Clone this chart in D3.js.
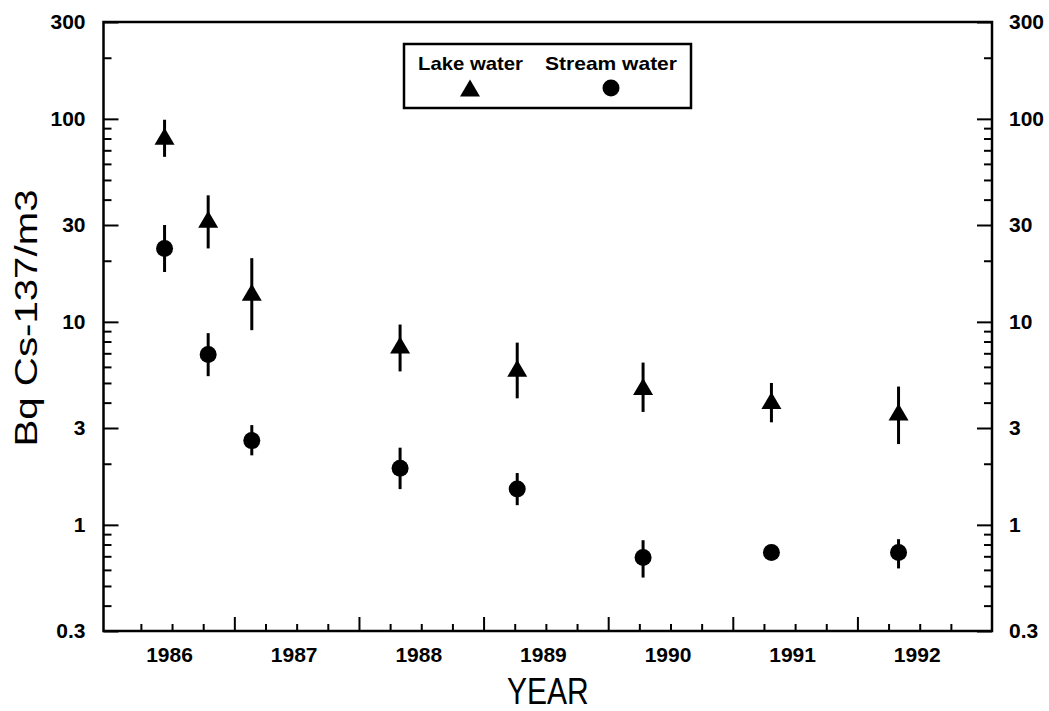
<!DOCTYPE html>
<html>
<head>
<meta charset="utf-8">
<script src="https://cdn.jsdelivr.net/npm/d3@7"></script>
<style>
  body { margin: 0; background: #fff; }
  svg { display: block; }
  text { font-family: "Liberation Sans", Arial, Helvetica, sans-serif; fill: #000; }
</style>
</head>
<body>
<svg id="chart" width="1049" height="711"></svg>
<script>
// Cs-137 activity in lake and stream water, 1986-1992 (sampling date as decimal year)
const sampleDates   = [1986.44, 1986.79, 1987.14, 1988.33, 1989.27, 1990.28, 1991.31, 1992.33];
const lakeValues    = [82, 32, 14, 7.7, 5.9, 4.8, 4.1, 3.6];
const lakeLow       = [65, 23, 9.1, 5.7, 4.2, 3.6, 3.2, 2.5];
const lakeHigh      = [99, 42, 20.6, 9.7, 7.9, 6.3, 5.0, 4.8];
const streamValues  = [23, 6.9, 2.6, 1.9, 1.5, 0.69, 0.73, 0.73];
const streamLow     = [17.6, 5.4, 2.2, 1.5, 1.25, 0.55, 0.73, 0.61];
const streamHigh    = [30, 8.8, 3.1, 2.4, 1.8, 0.84, 0.73, 0.85];
const seriesNames   = ["Lake water", "Stream water"];
const yearLabels    = [1986, 1987, 1988, 1989, 1990, 1991, 1992];
const yearTicks     = [1987, 1988, 1989, 1990, 1991, 1992];
const quarterTicks  = [0.25, 0.5, 0.75, 1.25, 1.5, 1.75, 2.25, 2.5, 2.75, 3.25, 3.5, 3.75,
                       4.25, 4.5, 4.75, 5.25, 5.5, 5.75, 6.25, 6.5, 6.75].map(d => 1986 + d);
const yMajorTicks   = [0.3, 1, 3, 10, 30, 100, 300];
const yMinorTicks   = [0.4, 0.5, 0.6, 0.7, 0.8, 0.9, 2, 4, 5, 6, 7, 8, 9,
                       20, 40, 50, 60, 70, 80, 90, 200];
const xDomain = [1985.95, 1993.08];
const yDomain = [0.3, 300];

const svg = d3.select("#chart");
const plot = { left: 103.5, right: 992, top: 22, bottom: 631 };

const x = d3.scaleLinear().domain(xDomain).range([plot.left, plot.right]);
const y = d3.scaleLog().domain(yDomain).range([plot.bottom, plot.top]);

const fmtY = d => (d < 1 ? d3.format(".1f")(d) : d3.format("d")(d));

function styleAxis(g) {
  g.select(".domain").remove();
  g.selectAll(".tick line").attr("stroke", "#000").attr("stroke-width", 2);
  g.selectAll(".tick text").attr("font-size", 21).attr("font-weight", "bold");
}

// Left axis: labelled decades and minor ticks pointing inward
svg.append("g").attr("transform", `translate(${plot.left},0)`)
  .call(d3.axisLeft(y).tickValues(yMajorTicks).tickSize(-15).tickPadding(18).tickFormat(fmtY))
  .call(styleAxis);
svg.append("g").attr("transform", `translate(${plot.left},0)`)
  .call(d3.axisLeft(y).tickValues(yMinorTicks).tickSize(-8).tickFormat(""))
  .call(styleAxis);

// Right axis mirrors the left
svg.append("g").attr("transform", `translate(${plot.right},0)`)
  .call(d3.axisRight(y).tickValues(yMajorTicks).tickSize(-15).tickPadding(17).tickFormat(fmtY))
  .call(styleAxis);
svg.append("g").attr("transform", `translate(${plot.right},0)`)
  .call(d3.axisRight(y).tickValues(yMinorTicks).tickSize(-8).tickFormat(""))
  .call(styleAxis);

// Bottom axis: year boundaries, quarter ticks, labels centred in each year
svg.append("g").attr("transform", `translate(0,${plot.bottom})`)
  .call(d3.axisBottom(x).tickValues(yearTicks).tickSize(-14).tickFormat(""))
  .call(styleAxis);
svg.append("g").attr("transform", `translate(0,${plot.bottom})`)
  .call(d3.axisBottom(x).tickValues(quarterTicks).tickSize(-7).tickFormat(""))
  .call(styleAxis);
svg.append("g").attr("transform", `translate(0,${plot.bottom})`)
  .call(d3.axisBottom(x).tickValues(yearLabels.map(v => v + 0.5)).tickSize(0).tickPadding(16)
        .tickFormat(d => String(Math.floor(d))))
  .call(styleAxis)
  .call(g => g.selectAll(".tick text").attr("dx", -3));

// Plot frame
svg.append("rect")
  .attr("x", plot.left).attr("y", plot.top)
  .attr("width", plot.right - plot.left).attr("height", plot.bottom - plot.top)
  .attr("fill", "none").attr("stroke", "#000").attr("stroke-width", 2.5);

// Axis titles
svg.append("text")
  .attr("transform", `translate(${(plot.left + plot.right) / 2},704) scale(1,1.25)`)
  .attr("text-anchor", "middle").attr("font-size", 30)
  .text("YEAR");
svg.append("text")
  .attr("transform", "translate(37,318) rotate(-90) scale(1.257,1)")
  .attr("text-anchor", "middle").attr("font-size", 32)
  .text("Bq Cs-137/m3");

// Marker shapes
const triangle = "M0,-8.5L10,8.5L-10,8.5Z";
const circleR = 8.5;

const lake = sampleDates.map((d, i) => ({ date: d, v: lakeValues[i], lo: lakeLow[i], hi: lakeHigh[i] }));
const stream = sampleDates.map((d, i) => ({ date: d, v: streamValues[i], lo: streamLow[i], hi: streamHigh[i] }));

// Error bars
const bars = svg.append("g").attr("stroke", "#000").attr("stroke-width", 3);
[lake, stream].forEach(series => {
  bars.selectAll(null).data(series.filter(p => p.hi > p.lo)).enter().append("line")
    .attr("x1", p => x(p.date)).attr("x2", p => x(p.date))
    .attr("y1", p => y(p.hi)).attr("y2", p => y(p.lo));
});

// Markers
svg.append("g").selectAll("path").data(lake).enter().append("path")
  .attr("d", triangle)
  .attr("transform", p => `translate(${x(p.date)},${y(p.v)})`)
  .attr("fill", "#000");
svg.append("g").selectAll("circle").data(stream).enter().append("circle")
  .attr("cx", p => x(p.date)).attr("cy", p => y(p.v)).attr("r", circleR)
  .attr("fill", "#000");

// Legend
const legend = svg.append("g");
legend.append("rect")
  .attr("x", 404).attr("y", 44).attr("width", 287).attr("height", 64)
  .attr("fill", "#fff").attr("stroke", "#000").attr("stroke-width", 2.5);
const legendItems = [
  { name: seriesNames[0], cx: 470, textX: 418, width: 105, shape: "triangle" },
  { name: seriesNames[1], cx: 611, textX: 545, width: 132, shape: "circle" }
];
legendItems.forEach(item => {
  legend.append("text")
    .attr("x", item.textX).attr("y", 70)
    .attr("font-size", 19).attr("font-weight", "bold")
    .attr("textLength", item.width).attr("lengthAdjust", "spacingAndGlyphs")
    .text(item.name);
  if (item.shape === "triangle") {
    legend.append("path").attr("d", triangle)
      .attr("transform", `translate(${item.cx},88)`).attr("fill", "#000");
  } else {
    legend.append("circle").attr("cx", item.cx).attr("cy", 88).attr("r", circleR).attr("fill", "#000");
  }
});
</script>
</body>
</html>
